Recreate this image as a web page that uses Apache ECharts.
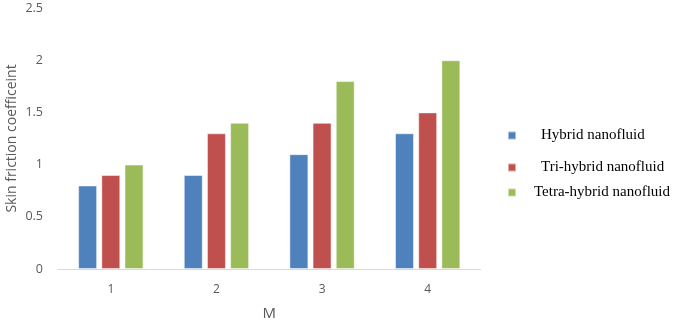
<!DOCTYPE html>
<html><head><meta charset="utf-8">
<script src="https://cdn.jsdelivr.net/npm/echarts@6/dist/echarts.min.js"></script>
<style>html,body{margin:0;padding:0;background:#fff}#c{width:685px;height:321px}</style>
</head><body><div id="c"></div>
<script>
const categories = ['1', '2', '3', '4'];
const hybrid = [0.8, 0.9, 1.1, 1.3];
const triHybrid = [0.9, 1.3, 1.4, 1.5];
const tetraHybrid = [1.0, 1.4, 1.8, 2.0];
const seriesNames = ['Hybrid nanofluid', 'Tri-hybrid nanofluid', 'Tetra-hybrid nanofluid'];
const colors = ['#4f81bd', '#c0504d', '#9bbb59'];

const chart = echarts.init(document.getElementById('c'), null, {renderer: 'canvas'});
const legendText = {fontFamily: 'Liberation Serif', fontSize: 15, color: '#000'};
const mkLegend = (name, left, top, pad) => ({
  data: [name], left: left, top: top, orient: 'vertical',
  itemWidth: 8, itemHeight: 8, icon: 'rect', padding: 0,
  textStyle: Object.assign({padding: [0, 0, 0, pad]}, legendText)
});
chart.setOption({
  animation: false,
  color: colors,
  grid: {left: 58, right: 204.5, top: 8, bottom: 52, containLabel: false, outerBoundsMode: 'none'},
  legend: [
    mkLegend(seriesNames[0], 507, 128, 20),
    mkLegend(seriesNames[1], 507, 160, 20),
    mkLegend(seriesNames[2], 507, 185, 13)
  ],
  xAxis: {
    type: 'category', data: categories,
    name: 'M', nameLocation: 'middle', nameGap: 37, nameMoveOverlap: false,
    nameTextStyle: {fontFamily: 'Open Sans', fontSize: 15, color: '#595959'},
    axisLine: {lineStyle: {color: '#d9d9d9', width: 1}},
    axisTick: {show: false},
    axisLabel: {fontFamily: 'Open Sans', fontSize: 12, color: '#595959', margin: 15}
  },
  yAxis: {
    type: 'value', min: 0, max: 2.5, interval: 0.5,
    name: 'Skin friction coefficeint', nameLocation: 'middle', nameGap: 39, nameMoveOverlap: false,
    nameTextStyle: {fontFamily: 'Open Sans', fontSize: 14, color: '#595959'},
    axisLine: {show: false}, axisTick: {show: false},
    splitLine: {show: false},
    axisLabel: {fontFamily: 'Open Sans', fontSize: 12.5, color: '#595959', margin: 15}
  },
  series: [
    {name: seriesNames[0], type: 'bar', data: hybrid, barWidth: 19, barGap: '22%', itemStyle: {borderColor: 'rgba(255,255,255,0.5)', borderWidth: 1}},
    {name: seriesNames[1], type: 'bar', data: triHybrid, barWidth: 19, barGap: '22%', itemStyle: {borderColor: 'rgba(255,255,255,0.5)', borderWidth: 1}},
    {name: seriesNames[2], type: 'bar', data: tetraHybrid, barWidth: 19, barGap: '22%', itemStyle: {borderColor: 'rgba(255,255,255,0.5)', borderWidth: 1}}
  ]
});
</script></body></html>
